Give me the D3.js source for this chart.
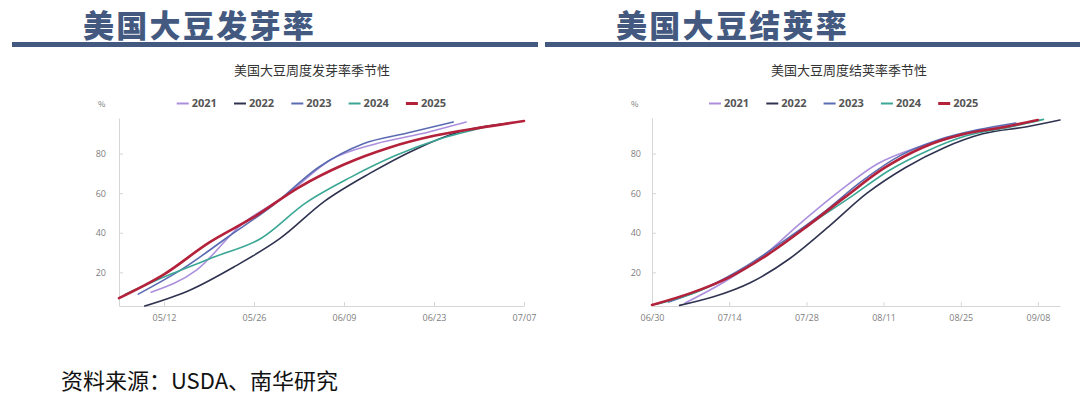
<!DOCTYPE html>
<html>
<head>
<meta charset="utf-8">
<script src="https://cdn.jsdelivr.net/npm/d3@7"></script>
<style>
  body { margin: 0; background: #fff; }
  svg { display: block; }
</style>
</head>
<body>
<div id="chart"></div>
<script>
// Series legend
const years = ['2021', '2022', '2023', '2024', '2025'];
const yearColors = ['#ab8fdd', '#2f3350', '#5a6bb2', '#3aa795', '#b3213a'];

// Emergence (发芽率), report dates mapped to one calendar
const emergeDates2021 = ['05/10', '05/17', '05/24', '05/31', '06/07', '06/14', '06/21', '06/28'];
const emergeVals2021 = [10, 21, 44, 59, 77, 85, 90, 96];
const emergeDates2022 = ['05/09', '05/16', '05/23', '05/30', '06/06', '06/13', '06/20', '06/27', '07/05'];
const emergeVals2022 = [3, 11, 23, 37, 56, 70, 82, 91, 95.5];
const emergeDates2023 = ['05/08', '05/15', '05/22', '05/29', '06/05', '06/12', '06/19', '06/26'];
const emergeVals2023 = [9, 22, 38, 54, 73, 85, 90.5, 96];
const emergeDates2024 = ['05/06', '05/13', '05/20', '05/27', '06/03', '06/10', '06/17', '06/24', '07/01'];
const emergeVals2024 = [9, 19, 28, 37, 55, 68, 79, 87.5, 93.5];
const emergeDates2025 = ['05/05', '05/12', '05/19', '05/26', '06/02', '06/09', '06/16', '06/23', '06/30', '07/07'];
const emergeVals2025 = [7, 19, 35, 48, 63, 74.5, 83, 89, 93, 96.5];

// Pod setting (结荚率)
const podDates2021 = ['07/06', '07/13', '07/20', '07/27', '08/03', '08/10', '08/17', '08/24', '08/31', '09/07'];
const podVals2021 = [4.5, 15, 28, 45, 61, 75, 83, 88.5, 93, 96];
const podDates2022 = ['07/05', '07/11', '07/18', '07/25', '08/01', '08/08', '08/15', '08/22', '08/29', '09/06', '09/12'];
const podVals2022 = [3.3, 7.5, 15, 27, 43, 60, 73, 83, 90, 93.6, 97];
const podDates2023 = ['07/03', '07/10', '07/17', '07/24', '07/31', '08/07', '08/14', '08/21', '08/28', '09/04'];
const podVals2023 = [5, 12.5, 23, 36, 50, 66, 79, 87, 92, 95.5];
const podDates2024 = ['07/01', '07/08', '07/15', '07/22', '07/29', '08/05', '08/12', '08/19', '08/26', '09/03', '09/09'];
const podVals2024 = [4, 10, 19, 31, 45, 58, 71.5, 81.5, 89, 93.5, 97.3];
const podDates2025 = ['06/30', '07/07', '07/14', '07/21', '07/28', '08/04', '08/11', '08/18', '08/25', '09/02', '09/08'];
const podVals2025 = [3.5, 9.5, 17.5, 29, 43, 58, 72.5, 83, 89.5, 93.5, 97];

// Axis ticks
const emergeTicks = ['05/12', '05/26', '06/09', '06/23', '07/07'];
const podTicks = ['06/30', '07/14', '07/28', '08/11', '08/25', '09/08'];
const yTicks = [20, 40, 60, 80];

const parseMD = s => d3.timeParse('%Y/%m/%d')('2025/' + s);
const fmtMD = d3.timeFormat('%m/%d');

const svg = d3.select('#chart')
    .append('svg')
    .attr('width', 1080)
    .attr('height', 399);

const fontCJK = '"Noto Sans CJK SC", "Noto Sans", sans-serif';
const titleColor = '#43597f';

// Section headers
function header(text, x, barX0, barX1) {
    svg.append('text')
        .attr('x', x)
        .attr('y', 36.5)
        .style('font-family', fontCJK)
        .style('font-size', '31px')
        .style('letter-spacing', '2.3px')
        .style('font-weight', 900)
        .style('fill', titleColor)
        .text(text);
    svg.append('rect')
        .attr('x', barX0)
        .attr('y', 42)
        .attr('width', barX1 - barX0)
        .attr('height', 5)
        .attr('fill', titleColor);
}
header('美国大豆发芽率', 83, 12, 538);
header('美国大豆结荚率', 616, 545, 1080);

function drawPanel(cfg) {
    const x = d3.scaleTime()
        .domain([parseMD(cfg.xStart), parseMD(cfg.xEnd)])
        .range([cfg.left, cfg.right]);
    const y = d3.scaleLinear()
        .domain([3, 98])
        .range([306, 118]);

    // Subtitle
    svg.append('text')
        .attr('x', cfg.titleX)
        .attr('y', 75)
        .attr('text-anchor', 'middle')
        .style('font-family', fontCJK)
        .style('font-size', '13px')
        .style('fill', '#333')
        .text(cfg.title);

    // Unit label
    svg.append('text')
        .attr('x', cfg.left - 21)
        .attr('y', 107)
        .style('font-family', fontCJK)
        .style('font-size', '8px')
        .style('fill', '#777')
        .text('%');

    // Legend
    const legend = svg.append('g');
    years.forEach((yr, i) => {
        const lx = cfg.legendX + i * 57.3;
        legend.append('line')
            .attr('x1', lx).attr('x2', lx + 12)
            .attr('y1', 103.5).attr('y2', 103.5)
            .attr('stroke', yearColors[i])
            .attr('stroke-width', yr === '2025' ? 3 : 2);
        legend.append('text')
            .attr('x', lx + 15)
            .attr('y', 103.5)
            .attr('dy', '0.35em')
            .style('font-family', '"Open Sans", "Noto Sans", sans-serif')
            .style('font-size', '11px')
            .style('font-weight', 700)
            .style('fill', '#555')
            .text(yr);
    });

    // Axes
    const xAxis = svg.append('g')
        .attr('transform', 'translate(0,306)')
        .call(d3.axisBottom(x)
            .tickValues(cfg.ticks.map(parseMD))
            .tickFormat(fmtMD)
            .tickSizeInner(-4)
            .tickSizeOuter(0)
            .tickPadding(9));
    const yAxis = svg.append('g')
        .attr('transform', `translate(${cfg.left},0)`)
        .call(d3.axisLeft(y)
            .tickValues(yTicks)
            .tickSizeInner(-4)
            .tickSizeOuter(0)
            .tickPadding(cfg.yPad));
    [xAxis, yAxis].forEach(a => {
        a.select('.domain').attr('stroke', '#d6d6d6');
        a.selectAll('.tick line').attr('stroke', '#d6d6d6');
        a.selectAll('.tick text')
            .style('font-family', '"Open Sans", "Noto Sans", sans-serif')
            .style('font-size', '9px')
            .style('fill', '#808080');
    });

    // Lines
    const line = d3.line()
        .x(d => x(d.date))
        .y(d => y(d.value))
        .curve(d3.curveMonotoneX);

    cfg.series.forEach((s, i) => {
        const pts = s.dates.map((dt, j) => ({date: parseMD(dt), value: s.values[j]}));
        svg.append('path')
            .datum(pts)
            .attr('fill', 'none')
            .attr('stroke', yearColors[i])
            .attr('stroke-width', years[i] === '2025' ? 2.6 : 1.6)
            .attr('stroke-linecap', 'round')
            .attr('d', line);
    });
}

drawPanel({
    title: '美国大豆周度发芽率季节性',
    titleX: 312,
    left: 119, right: 524,
    xStart: '05/05', xEnd: '07/07',
    ticks: emergeTicks,
    legendX: 176.7,
    yPad: 13,
    series: [
        {dates: emergeDates2021, values: emergeVals2021},
        {dates: emergeDates2022, values: emergeVals2022},
        {dates: emergeDates2023, values: emergeVals2023},
        {dates: emergeDates2024, values: emergeVals2024},
        {dates: emergeDates2025, values: emergeVals2025}
    ]
});

drawPanel({
    title: '美国大豆周度结荚率季节性',
    titleX: 849,
    left: 652, right: 1060,
    xStart: '06/30', xEnd: '09/12',
    ticks: podTicks,
    legendX: 709,
    yPad: 11,
    series: [
        {dates: podDates2021, values: podVals2021},
        {dates: podDates2022, values: podVals2022},
        {dates: podDates2023, values: podVals2023},
        {dates: podDates2024, values: podVals2024},
        {dates: podDates2025, values: podVals2025}
    ]
});

// Source note
svg.append('text')
    .attr('x', 61)
    .attr('y', 389)
    .style('font-family', fontCJK)
    .style('font-size', '22px')
    .style('fill', '#111')
    .text('资料来源：USDA、南华研究');
</script>
</body>
</html>
